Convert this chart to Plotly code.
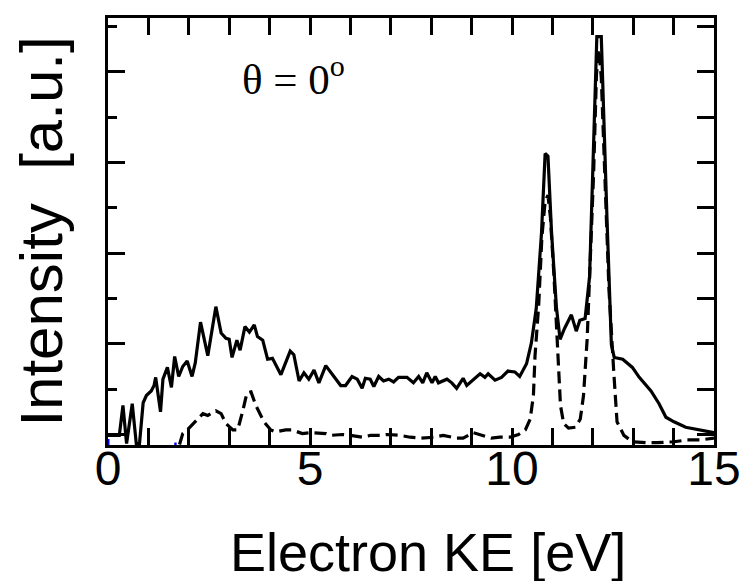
import plotly.graph_objects as go

# Solid curve (total spectrum)
energy_solid = [0.00, 0.28, 0.37, 0.46, 0.60, 0.70, 0.78, 0.87, 0.95, 1.07, 1.14, 1.18, 1.30, 1.36,
                1.47, 1.57, 1.65, 1.75, 1.85, 1.96, 2.08, 2.16, 2.29, 2.47, 2.67, 2.80, 2.92, 3.00,
                3.07, 3.19, 3.27, 3.39, 3.50, 3.62, 3.70, 3.83, 3.95, 4.07, 4.28, 4.51, 4.60, 4.73,
                4.85, 4.97, 5.10, 5.22, 5.39, 5.55, 5.76, 5.88, 6.04, 6.17, 6.29, 6.37, 6.49, 6.58,
                6.70, 6.82, 6.95, 7.07, 7.19, 7.40, 7.56, 7.69, 7.79, 7.89, 8.02, 8.10, 8.18, 8.39,
                8.51, 8.63, 8.79, 8.88, 9.04, 9.21, 9.33, 9.41, 9.58, 9.74, 9.90, 10.07, 10.19, 10.36,
                10.48, 10.60, 10.73, 10.82, 10.89, 10.98, 11.10, 11.19, 11.30, 11.47, 11.59, 11.68,
                11.81, 11.92, 12.10, 12.21, 12.35, 12.46, 12.53, 12.74, 12.98, 13.15, 13.44, 13.64,
                13.81, 14.01, 14.30, 14.63, 14.92, 15.00]
intensity_solid = [-0.01, -0.01, 0.32, -0.10, 0.34, -0.10, -0.10, 0.35, 0.43, 0.48, 0.54, 0.63, 0.25, 0.61,
                   0.74, 0.52, 0.86, 0.64, 0.75, 0.81, 0.64, 0.79, 1.24, 0.87, 1.41, 1.12, 1.06, 1.05,
                   0.85, 1.04, 0.93, 1.19, 1.13, 1.21, 1.08, 1.04, 0.83, 0.84, 0.66, 0.92, 0.88, 0.59,
                   0.68, 0.61, 0.71, 0.57, 0.76, 0.66, 0.54, 0.54, 0.64, 0.61, 0.51, 0.62, 0.61, 0.53,
                   0.64, 0.59, 0.61, 0.58, 0.63, 0.63, 0.57, 0.64, 0.57, 0.68, 0.57, 0.64, 0.57, 0.61,
                   0.57, 0.51, 0.62, 0.54, 0.60, 0.67, 0.63, 0.67, 0.60, 0.63, 0.70, 0.69, 0.64, 0.78,
                   1.01, 1.39, 2.22, 3.10, 3.07, 2.22, 1.40, 1.05, 1.17, 1.32, 1.14, 1.26,
                   1.28, 1.74, 4.39, 4.39, 2.40, 0.99, 0.85, 0.83, 0.74, 0.63, 0.48, 0.34,
                   0.19, 0.14, 0.08, 0.05, 0.02, 0.02]

# Dashed curve
energy_dashed = [1.77, 1.85, 1.96, 2.22, 2.35, 2.47, 2.67, 2.80, 2.92, 3.09, 3.21, 3.33, 3.44, 3.54,
                 3.66, 3.86, 4.03, 4.15, 4.40, 4.56, 4.81, 5.02, 5.39, 5.51, 5.80, 6.00, 6.29, 6.49,
                 6.74, 6.91, 7.23, 7.48, 7.73, 8.06, 8.30, 8.63, 8.79, 9.04, 9.25, 9.49, 9.70, 9.95,
                 10.16, 10.33, 10.45, 10.53, 10.57, 10.66, 10.74, 10.82, 10.89, 10.95, 11.04, 11.13,
                 11.20, 11.28, 11.40, 11.57, 11.69, 11.77, 11.86, 11.94, 12.02, 12.09, 12.15, 12.21,
                 12.29, 12.40, 12.52, 12.60, 12.77, 12.98, 13.35, 13.60, 14.01, 14.34, 14.67, 15.00]
intensity_dashed = [-0.11, 0.01, 0.05, 0.17, 0.23, 0.21, 0.26, 0.23, 0.12, 0.05, 0.05, 0.25, 0.46, 0.47,
                    0.32, 0.14, 0.05, 0.03, 0.05, 0.05, 0.01, 0.02, 0.01, -0.01, 0.00, -0.01, -0.03, -0.01,
                    -0.01, 0.00, -0.01, -0.03, -0.04, -0.03, -0.01, -0.04, -0.04, 0.02, -0.01, -0.04, -0.03, -0.03,
                    0.00, 0.05, 0.17, 0.43, 0.87, 1.42, 2.18, 2.57, 2.64, 2.40, 1.74, 1.01,
                    0.32, 0.12, 0.07, 0.08, 0.17, 0.43, 1.05, 1.96, 2.88, 3.97, 4.25, 3.94,
                    2.88, 1.60, 0.68, 0.14, -0.01, -0.08, -0.09, -0.09, -0.08, -0.06, -0.06, -0.04]

# Faint blue remnants near the baseline
energy_blue = [0.0, 0.0, None, 1.64, 1.70]
intensity_blue = [-0.12, -0.05, None, -0.105, -0.105]

x_ticks = [0, 5, 10, 15]
x_ticktext = ["0", "5", "10", "15"]

y_range = [-0.116, 4.595]

fig = go.Figure()
fig.add_trace(go.Scatter(x=energy_blue, y=intensity_blue, mode="lines",
                         line=dict(color="blue", width=3), showlegend=False, hoverinfo="skip"))
fig.add_trace(go.Scatter(x=energy_dashed, y=intensity_dashed, mode="lines",
                         line=dict(color="black", width=3.2, dash="12px,6px"), showlegend=False))
fig.add_trace(go.Scatter(x=energy_solid, y=intensity_solid, mode="lines",
                         line=dict(color="black", width=3.2), showlegend=False))
fig.add_trace(go.Scatter(x=[0], y=[-1], yaxis="y2", mode="lines", showlegend=False,
                         hoverinfo="skip", line=dict(color="rgba(0,0,0,0)")))

fig.add_annotation(x=3.27, y=3.95, xref="x", yref="y", xanchor="left", yanchor="middle",
                   text="θ = 0<sup>o</sup>", showarrow=False,
                   font=dict(family="Liberation Serif", size=43, color="black"))

# x-axis title (placed as annotation to match its slight right offset)
fig.add_annotation(x=0.528, y=-0.25, xref="paper", yref="paper", xanchor="center", yanchor="middle",
                   text="Electron KE [eV]", showarrow=False,
                   font=dict(family="Liberation Sans", size=54, color="black"))

fig.update_layout(
    width=750, height=581,
    margin=dict(l=100, r=44, t=7, b=144),
    plot_bgcolor="white", paper_bgcolor="white",
    font=dict(family="Liberation Sans", color="black"),
    xaxis=dict(range=[0, 15], showline=True, linewidth=3, linecolor="black", mirror="ticks",
               ticks="inside", ticklen=17, tickwidth=3, tickcolor="black",
               tickvals=x_ticks, ticktext=x_ticktext, tickfont=dict(size=48),
               ticklabelstandoff=-21,
               minor=dict(ticks="inside", ticklen=17, tickwidth=3, tickcolor="black",
                          dtick=1, tick0=0, showgrid=False),
               showgrid=False, zeroline=False),
    yaxis=dict(range=y_range, showline=True, linewidth=3, linecolor="black",
               ticks="inside", ticklen=17, tickwidth=3, tickcolor="black",
               tick0=0, dtick=1, showticklabels=False, showgrid=False, zeroline=False,
               minor=dict(ticks="inside", ticklen=9, tickwidth=3, tickcolor="black",
                          tick0=0.5, dtick=1, showgrid=False),
               title=dict(text="Intensity  [a.u.]", font=dict(size=60), standoff=26)),
    yaxis2=dict(range=y_range, overlaying="y", side="right", showline=True, linewidth=3,
                linecolor="black", ticks="inside", ticklen=17, tickwidth=3, tickcolor="black",
                tick0=0, dtick=0.5, showticklabels=False, showgrid=False, zeroline=False),
)

fig.write_html("out.html")
